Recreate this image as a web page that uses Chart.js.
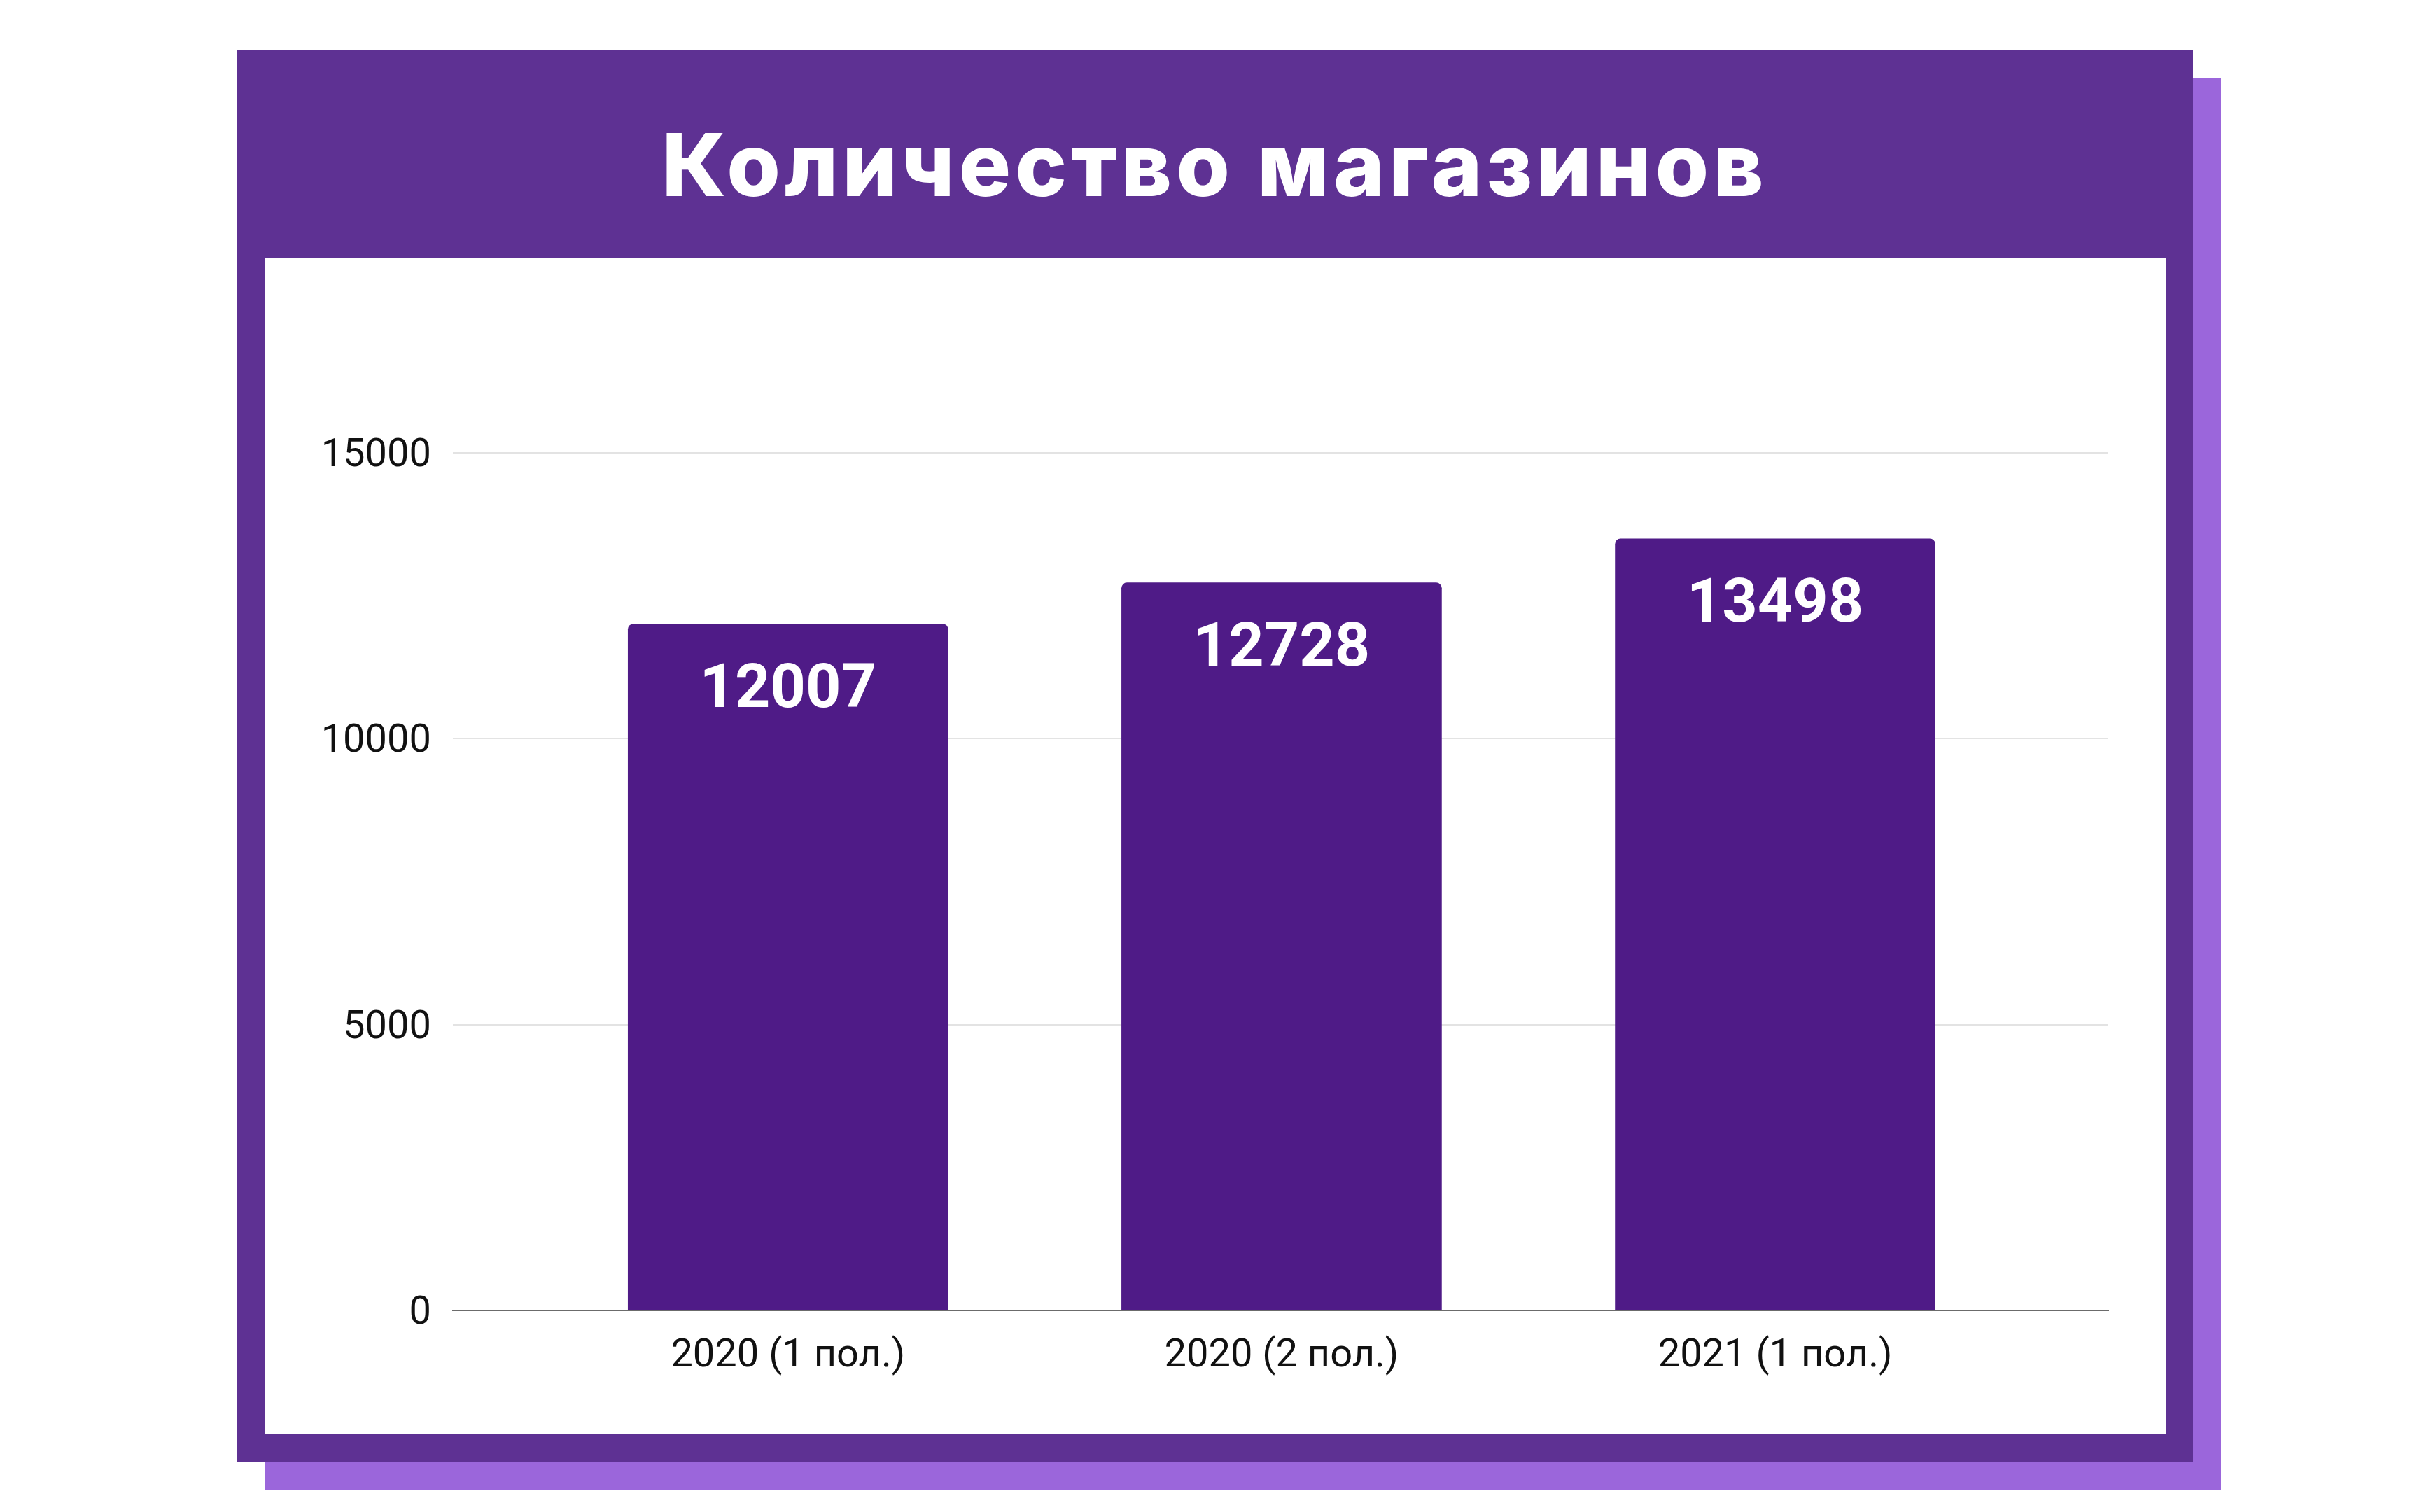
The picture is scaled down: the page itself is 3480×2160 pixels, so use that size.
<!DOCTYPE html>
<html>
<head>
<meta charset="utf-8">
<script src="https://cdn.jsdelivr.net/npm/chart.js@4/dist/chart.umd.min.js"></script>
<style>
  html, body { margin: 0; padding: 0; background: #fff; }
  body { width: 3480px; height: 2160px; position: relative; overflow: hidden; }
  .shadow { position: absolute; left: 378px; top: 111px; width: 2795px; height: 2018px; background: #9b66db; }
  .frame { position: absolute; left: 338px; top: 71px; width: 2795px; height: 2018px; background: #5e3193; }
  .title {
    position: absolute; left: 0; top: 0; width: 100%; height: 298px; box-sizing: border-box; padding-top: 30px;
    display: flex; align-items: center; justify-content: center;
    color: #fff; font-family: Inter, "Open Sans", sans-serif; font-weight: 800; font-size: 124px;
    white-space: nowrap;
  }
  .plot { position: absolute; left: 40px; top: 298px; width: 2716px; height: 1680px; background: #fff; }
</style>
</head>
<body>
<div class="shadow"></div>
<div class="frame">
  <div class="title"><span id="title">Количество магазинов</span></div>
  <div class="plot"><canvas id="myChart"></canvas></div>
</div>
<script>
const categories = ["2020 (1 пол.)", "2020 (2 пол.)", "2021 (1 пол.)"];
const storeCounts = [12007, 12728, 13498];
const yTicks = [0, 5000, 10000, 15000];

function fitTitle() {
  // stretch the heading a little so it spans like the original
  const span = document.getElementById("title");
  const w = span.getBoundingClientRect().width;
  const extra = (1580 - w) / span.textContent.length;
  span.style.letterSpacing = extra + "px";
}

const barLabels = {
  id: "barLabels",
  afterDatasetsDraw(chart) {
    const ctx = chart.ctx;
    const meta = chart.getDatasetMeta(0);
    ctx.save();
    ctx.fillStyle = "#ffffff";
    ctx.font = "bold 88px Roboto";
    ctx.textAlign = "center";
    ctx.textBaseline = "middle";
    meta.data.forEach((bar, i) => {
      ctx.fillText(String(storeCounts[i]), bar.x, bar.y + 96);
    });
    ctx.restore();
  },
};

function drawChart() {
  const ctx = document.getElementById("myChart");
  new Chart(ctx, {
    type: "bar",
    data: {
      datasets: [
        {
          data: categories.map((c, i) => ({ x: i, y: storeCounts[i] })),
          backgroundColor: "#4f1b87",
          borderRadius: { topLeft: 8, topRight: 8 },
          borderSkipped: "bottom",
          barThickness: 457,
        },
      ],
    },
    options: {
      responsive: true,
      maintainAspectRatio: false,
      animation: false,
      layout: { padding: { top: 74, right: 82, left: 0, bottom: 0 } },
      plugins: { legend: { display: false }, tooltip: { enabled: false } },
      scales: {
        x: {
          type: "linear",
          offset: false,
          min: -0.679,
          max: 2.675,
          afterBuildTicks: (s) => {
            s.ticks = categories.map((c, i) => ({ value: i }));
          },
          afterFit: (s) => {
            s.height = 177;
          },
          grid: { display: false, drawTicks: false, offset: false },
          border: { display: true, color: "#6b6b6b", width: 2 },
          ticks: {
            callback: (v) => categories[v],
            color: "#111111",
            font: { family: "Roboto", size: 56 },
            padding: 32,
            maxRotation: 0,
          },
        },
        y: {
          min: 0,
          max: 17500,
          afterBuildTicks: (s) => {
            s.ticks = yTicks.map((v) => ({ value: v }));
          },
          afterFit: (s) => {
            s.width = 269;
          },
          grid: { color: "#e3e3e3", lineWidth: 2, drawTicks: false },
          border: { display: false },
          ticks: {
            callback: (v) => String(v),
            color: "#111111",
            font: { family: "Roboto", size: 56 },
            padding: 31,
            labelOffset: 5,
          },
        },
      },
    },
    plugins: [barLabels],
  });
}

fitTitle();
drawChart();
</script>
</body>
</html>
